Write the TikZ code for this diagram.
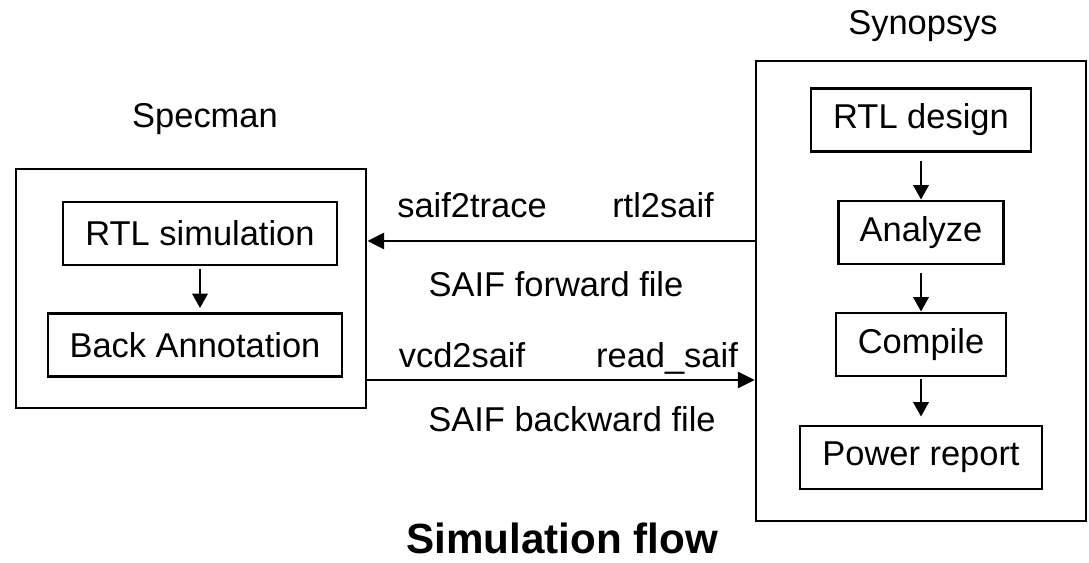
\documentclass[tikz,border=0pt]{standalone}
\usepackage{fontspec}
\setmainfont{Liberation Sans}
\usepackage{tikz}
\usetikzlibrary{arrows.meta,positioning,calc}
\tikzset{
  toolbox/.style={draw=black, line width=1.9pt, inner sep=0pt},
  stepbox/.style={draw=black, line width=1.9pt, inner sep=0pt, minimum height=1.58cm},
  toolname/.style={anchor=base},
  cmdlabel/.style={anchor=base},
  flowarr/.style={-{Triangle[length=0.42cm,width=0.4cm]}, line width=1.9pt},
  steparr/.style={-{Triangle[length=0.36cm,width=0.38cm]}, line width=1.9pt}
}

\begin{document}
\begin{tikzpicture}[x=0.025cm, y=-0.025cm, font=\fontsize{24.5pt}{29pt}\selectfont]
  \useasboundingbox (0,0) rectangle (1089,563);

  \node[toolbox, minimum width=8.75cm, minimum height=5.975cm] (specman) at (191,288.5) {};
  \node[toolbox, minimum width=8.25cm, minimum height=11.5cm] (synopsys) at (921,291) {};

  \node[toolname] at (205,128) {Specman};
  \node[toolname] at (923,35) {Synopsys};

  \node[stepbox, minimum width=6.85cm] (rtlsim) at (200,233.5) {RTL simulation};
  \node[stepbox, minimum width=7.35cm] (backann) at (195,345) {Back Annotation};

  \node[stepbox, minimum width=5.5cm] (rtldes) at (921,120) {RTL design};
  \node[stepbox, minimum width=4.125cm] (analyze) at (921,232.5) {Analyze};
  \node[stepbox, minimum width=4.25cm] (compile) at (921,344.5) {Compile};
  \node[stepbox, minimum width=6.05cm] (power) at (921,457.5) {Power report};

  \draw[steparr, shorten <=0.07cm, shorten >=0.1cm] (rtlsim) -- (rtlsim |- backann.north);
  \draw[steparr, shorten <=0.2cm] (rtldes) -- (analyze);
  \draw[steparr, shorten <=0.2cm] (analyze) -- (compile);
  \draw[steparr, shorten <=0.05cm, shorten >=0.2cm] (compile) -- (power);

  \coordinate (fwd) at (560,241);
  \coordinate (bwd) at (560,380);
  \draw[flowarr] (synopsys.west |- fwd) -- (specman.east |- fwd);
  \draw[flowarr] (specman.east |- bwd) -- (synopsys.west |- bwd);

  \node[cmdlabel] at (472,218) {saif2trace};
  \node[cmdlabel] at (663,218) {rtl2saif};
  \node[cmdlabel] at (556,296) {SAIF forward file};
  \node[cmdlabel] at (462,367) {vcd2saif};
  \node[cmdlabel] at (667,367) {read\_saif};
  \node[cmdlabel] at (572,431) {SAIF backward file};

  \node[anchor=base, inner sep=0pt, font=\fontsize{30pt}{36pt}\selectfont\bfseries] at (562,553) {Simulation flow};
\end{tikzpicture}
\end{document}
